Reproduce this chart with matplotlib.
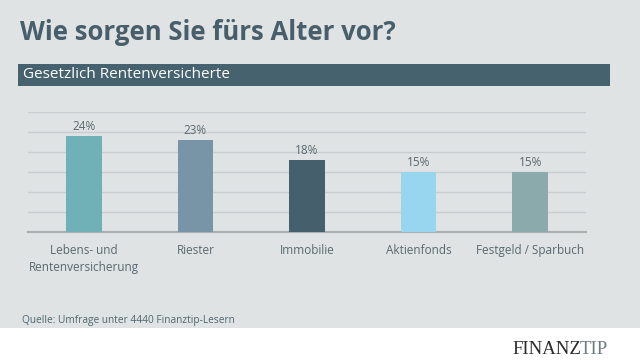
import matplotlib.pyplot as plt
from matplotlib.patches import Rectangle

categories = ["Lebens- und\nRentenversicherung", "Riester", "Immobilie", "Aktienfonds", "Festgeld / Sparbuch"]
values = [24, 23, 18, 15, 15]
colors = ["#6fb1b6", "#7895a7", "#45606c", "#98d6f0", "#8aaaac"]

plt.rcParams["font.family"] = ["Open Sans", "DejaVu Sans"]

fig = plt.figure(figsize=(6.4, 3.6), dpi=100)
fig.patch.set_facecolor("white")

# grey panel + banner
fig.patches.append(Rectangle((0, 1 - 328 / 360), 1, 328 / 360, transform=fig.transFigure,
                             facecolor="#dfe3e4", edgecolor="none", zorder=0))
fig.patches.append(Rectangle((18 / 640, 1 - 86 / 360), (610 - 18) / 640, 22 / 360,
                             transform=fig.transFigure, facecolor="#45626e", edgecolor="none", zorder=1))

fig.text(20 / 640, 1 - 33 / 360, "Wie sorgen Sie fürs Alter vor?", fontsize=18.5, fontweight="bold",
         color="#485f6b", va="center", ha="left")
fig.text(23 / 640, 1 - 75 / 360, "Gesetzlich Rentenversicherte", fontsize=11,
         color="white", va="center", ha="left")
fig.text(22 / 640, 1 - 320 / 360, "Quelle: Umfrage unter 4440 Finanztip-Lesern", fontsize=7.3,
         color="#4f6570", va="center", ha="left")
fig.text(512 / 640, 1 - 349 / 360, "FINANZ", fontsize=13.5, family="Liberation Serif",
         color="#2b2b2b", va="center", ha="left")
fig.text(580 / 640, 1 - 349 / 360, "TIP", fontsize=13.5, family="Liberation Serif",
         color="#6d7c84", va="center", ha="left")

ax = fig.add_axes([28 / 640, 1 - 232 / 360, (586 - 28) / 640, 120 / 360])
ax.set_zorder(3)
ax.set_facecolor("none")
x = range(len(categories))
bars = ax.bar(x, values, width=0.32, color=colors, zorder=3)
for b, v in zip(bars, values):
    ax.text(b.get_x() + b.get_width() / 2, v + 0.8, f"{v}%", ha="center", va="bottom",
            fontsize=8.5, color="#5a6870")

ax.set_xlim(-0.5, 4.5)
ax.set_ylim(0, 30)
ax.set_yticks([5, 10, 15, 20, 25, 30])
ax.yaxis.grid(True, color="#c8cdd0", linewidth=1)
ax.set_axisbelow(True)
ax.set_yticklabels([])
ax.tick_params(left=False, bottom=False)
ax.set_xticks(list(x))
ax.set_xticklabels(categories, fontsize=8.5, color="#5a6870", linespacing=1.45)
ax.tick_params(axis="x", pad=5)
for s in ["top", "right", "left"]:
    ax.spines[s].set_visible(False)
ax.spines["bottom"].set_color("#a9aeb1")
ax.spines["bottom"].set_linewidth(1.5)

fig.savefig("out.png", dpi=100)
